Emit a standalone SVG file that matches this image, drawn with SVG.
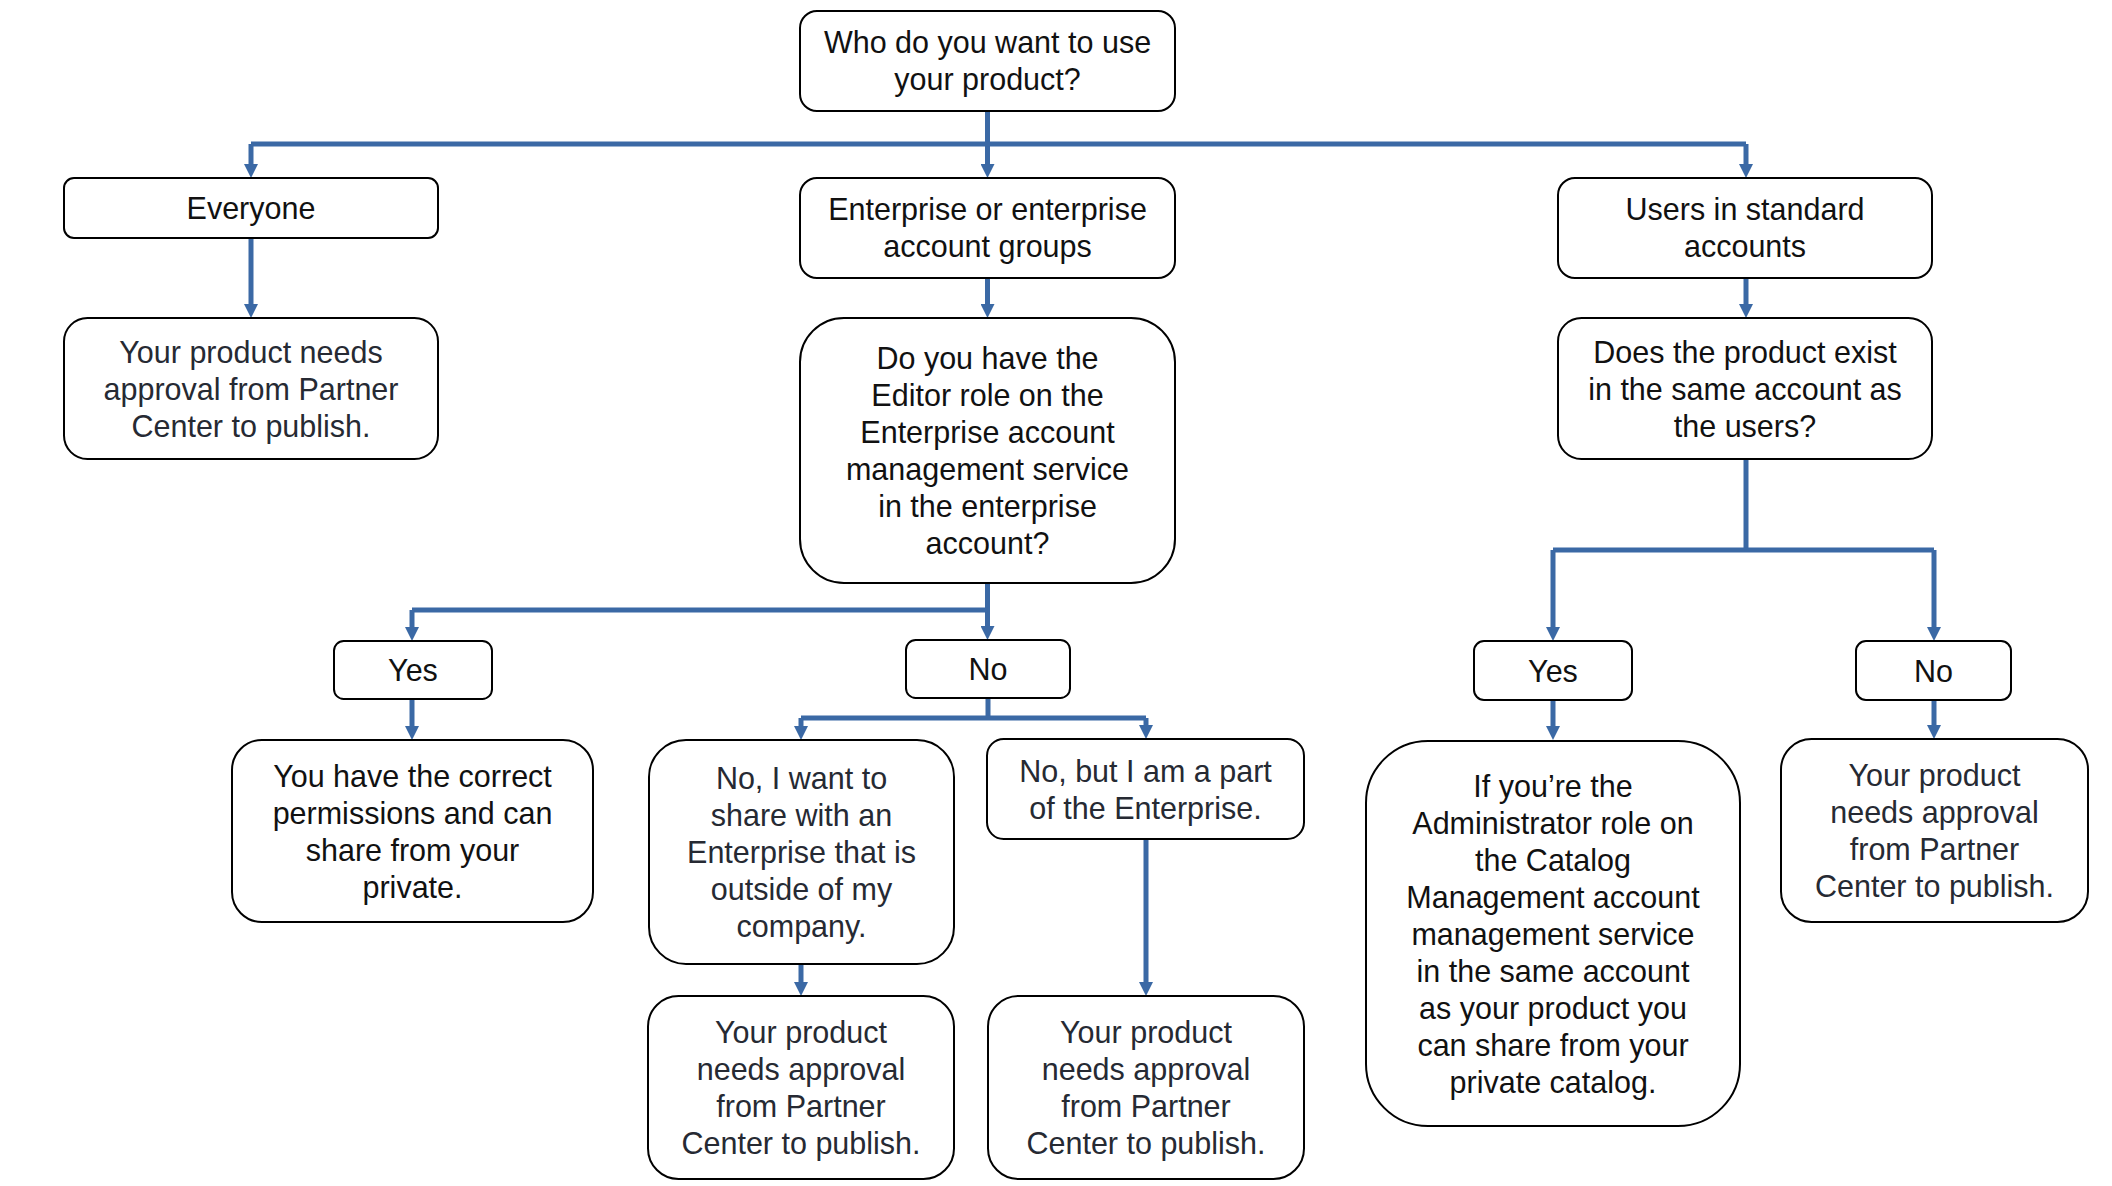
<svg xmlns="http://www.w3.org/2000/svg" width="2112" height="1186" viewBox="0 0 2112 1186">
<style>
.box{fill:#ffffff;stroke:#000000;stroke-width:2}
.t{font-family:"Liberation Sans",Arial,sans-serif;font-size:30.5px;fill:#111111;text-anchor:middle}
.d{fill:#262a33}
.c{fill:none;stroke:#3b69a5;stroke-width:5}
</style>
<defs>
<marker id="ah" markerWidth="14" markerHeight="14" refX="4" refY="7" orient="auto" markerUnits="userSpaceOnUse">
<path d="M0,0 L14,7 L0,14 z" fill="#3b69a5"/>
</marker>
</defs>
<rect width="2112" height="1186" fill="#ffffff"/>
<g id="connectors">
<path class="c" d="M987.5,111 V168" marker-end="url(#ah)"/>
<path class="c" d="M251,144 H1746"/>
<path class="c" d="M251,144 V168" marker-end="url(#ah)"/>
<path class="c" d="M1746,144 V168" marker-end="url(#ah)"/>
<path class="c" d="M251,238 V308" marker-end="url(#ah)"/>
<path class="c" d="M987.5,278 V308" marker-end="url(#ah)"/>
<path class="c" d="M1746,278 V308" marker-end="url(#ah)"/>
<path class="c" d="M987.5,583 V630" marker-end="url(#ah)"/>
<path class="c" d="M412,610 H987.5"/>
<path class="c" d="M412,610 V631" marker-end="url(#ah)"/>
<path class="c" d="M412,699 V730" marker-end="url(#ah)"/>
<path class="c" d="M988,698 V718"/>
<path class="c" d="M801,718 H1146"/>
<path class="c" d="M801,718 V730" marker-end="url(#ah)"/>
<path class="c" d="M1146,718 V729" marker-end="url(#ah)"/>
<path class="c" d="M801,964 V986" marker-end="url(#ah)"/>
<path class="c" d="M1146,839 V986" marker-end="url(#ah)"/>
<path class="c" d="M1746,459 V550"/>
<path class="c" d="M1553,550 H1934"/>
<path class="c" d="M1553,550 V631" marker-end="url(#ah)"/>
<path class="c" d="M1934,550 V631" marker-end="url(#ah)"/>
<path class="c" d="M1553,700 V730" marker-end="url(#ah)"/>
<path class="c" d="M1934,700 V729" marker-end="url(#ah)"/>
</g>
<g id="n-who">
<rect class="box" x="800" y="11" width="375" height="100" rx="17"/>
<text class="t" x="987.5" y="53">Who do you want to use</text>
<text class="t" x="987.5" y="90">your product?</text>
</g>
<g id="n-everyone">
<rect class="box" x="64" y="178" width="374" height="60" rx="10"/>
<text class="t" x="251" y="219">Everyone</text>
</g>
<g id="n-enterprise">
<rect class="box" x="800" y="178" width="375" height="100" rx="17"/>
<text class="t" x="987.5" y="220">Enterprise or enterprise</text>
<text class="t" x="987.5" y="257">account groups</text>
</g>
<g id="n-users">
<rect class="box" x="1558" y="178" width="374" height="100" rx="17"/>
<text class="t" x="1745" y="220">Users in standard</text>
<text class="t" x="1745" y="257">accounts</text>
</g>
<g id="n-everyone-approval">
<rect class="box" x="64" y="318" width="374" height="141" rx="23.5"/>
<text class="t d" x="251" y="362.5">Your product needs</text>
<text class="t d" x="251" y="399.5">approval from Partner</text>
<text class="t d" x="251" y="436.5">Center to publish.</text>
</g>
<g id="n-editor">
<rect class="box" x="800" y="318" width="375" height="265" rx="44"/>
<text class="t" x="987.5" y="369">Do you have the</text>
<text class="t" x="987.5" y="406">Editor role on the</text>
<text class="t" x="987.5" y="443">Enterprise account</text>
<text class="t" x="987.5" y="480">management service</text>
<text class="t" x="987.5" y="517">in the enterprise</text>
<text class="t" x="987.5" y="554">account?</text>
</g>
<g id="n-exist">
<rect class="box" x="1558" y="318" width="374" height="141" rx="23.5"/>
<text class="t" x="1745" y="362.5">Does the product exist</text>
<text class="t" x="1745" y="399.5">in the same account as</text>
<text class="t" x="1745" y="436.5">the users?</text>
</g>
<g id="n-yes-mid">
<rect class="box" x="334" y="641" width="158" height="58" rx="9.7"/>
<text class="t" x="413" y="681">Yes</text>
</g>
<g id="n-no-mid">
<rect class="box" x="906" y="640" width="164" height="58" rx="9.7"/>
<text class="t" x="988" y="680">No</text>
</g>
<g id="n-yes-right">
<rect class="box" x="1474" y="641" width="158" height="59" rx="10"/>
<text class="t" x="1553" y="681.5">Yes</text>
</g>
<g id="n-no-right">
<rect class="box" x="1856" y="641" width="155" height="59" rx="10"/>
<text class="t" x="1933.5" y="681.5">No</text>
</g>
<g id="n-correct">
<rect class="box" x="232" y="740" width="361" height="182" rx="30"/>
<text class="t" x="412.5" y="787">You have the correct</text>
<text class="t" x="412.5" y="824">permissions and can</text>
<text class="t" x="412.5" y="861">share from your</text>
<text class="t" x="412.5" y="898">private.</text>
</g>
<g id="n-outside">
<rect class="box" x="649" y="740" width="305" height="224" rx="37"/>
<text class="t d" x="801.5" y="789">No, I want to</text>
<text class="t d" x="801.5" y="826">share with an</text>
<text class="t d" x="801.5" y="863">Enterprise that is</text>
<text class="t d" x="801.5" y="900">outside of my</text>
<text class="t d" x="801.5" y="937">company.</text>
</g>
<g id="n-part">
<rect class="box" x="987" y="739" width="317" height="100" rx="16.7"/>
<text class="t d" x="1145.5" y="781.5">No, but I am a part</text>
<text class="t d" x="1145.5" y="818.5">of the Enterprise.</text>
</g>
<g id="n-outside-approval">
<rect class="box" x="648" y="996" width="306" height="183" rx="30.5"/>
<text class="t d" x="801" y="1043">Your product</text>
<text class="t d" x="801" y="1080">needs approval</text>
<text class="t d" x="801" y="1117">from Partner</text>
<text class="t d" x="801" y="1154">Center to publish.</text>
</g>
<g id="n-part-approval">
<rect class="box" x="988" y="996" width="316" height="183" rx="30.5"/>
<text class="t d" x="1146" y="1043">Your product</text>
<text class="t d" x="1146" y="1080">needs approval</text>
<text class="t d" x="1146" y="1117">from Partner</text>
<text class="t d" x="1146" y="1154">Center to publish.</text>
</g>
<g id="n-admin">
<rect class="box" x="1366" y="741" width="374" height="385" rx="62"/>
<text class="t" x="1553" y="796.5">If you’re the</text>
<text class="t" x="1553" y="833.5">Administrator role on</text>
<text class="t" x="1553" y="870.5">the Catalog</text>
<text class="t" x="1553" y="907.5">Management account</text>
<text class="t" x="1553" y="944.5">management service</text>
<text class="t" x="1553" y="981.5">in the same account</text>
<text class="t" x="1553" y="1018.5">as your product you</text>
<text class="t" x="1553" y="1055.5">can share from your</text>
<text class="t" x="1553" y="1092.5">private catalog.</text>
</g>
<g id="n-right-approval">
<rect class="box" x="1781" y="739" width="307" height="183" rx="30.5"/>
<text class="t d" x="1934.5" y="786">Your product</text>
<text class="t d" x="1934.5" y="823">needs approval</text>
<text class="t d" x="1934.5" y="860">from Partner</text>
<text class="t d" x="1934.5" y="897">Center to publish.</text>
</g>
</svg>
